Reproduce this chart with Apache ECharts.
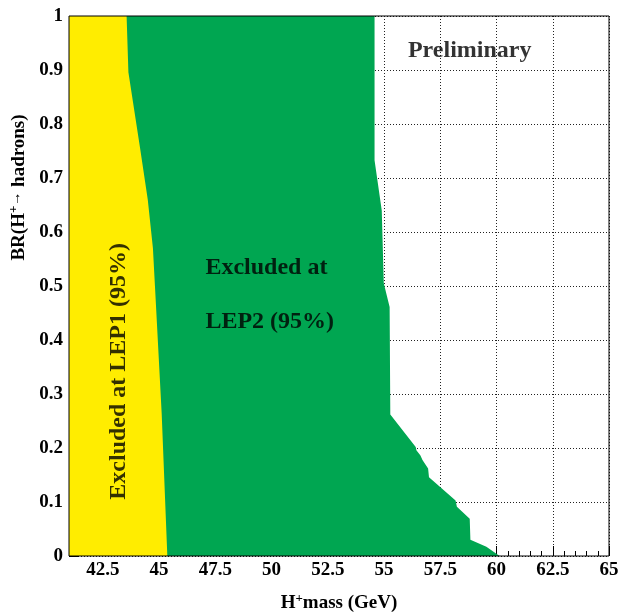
<!DOCTYPE html>
<html><head><meta charset="utf-8">
<script src="https://cdn.jsdelivr.net/npm/echarts@6/dist/echarts.min.js"></script>
<style>html,body{margin:0;padding:0;background:#fff}#c{width:629px;height:613px}</style>
</head><body><div id="c"></div>
<script>
// Tick labels on the mass axis (GeV)
const massTicks = [42.5, 45, 47.5, 50, 52.5, 55, 57.5, 60, 62.5, 65];

// LEP1 exclusion boundary (yellow): mass (GeV) vs BR(H+ -> hadrons)
const lep1Mass = [41.0, 43.56, 43.64, 44.16, 44.50, 44.73, 44.82, 45.12, 45.37];
const lep1BR   = [1.0,  1.0,   0.896, 0.755, 0.66,  0.57,  0.50,  0.263, 0.0];

// LEP2 exclusion boundary (green)
const lep2Mass = [41.0, 54.58, 54.58, 54.90, 54.99, 55.25, 55.28, 56.41, 56.44, 56.62, 56.71, 56.96, 57.00, 58.18, 58.24, 58.81, 58.84, 59.55, 60.14];
const lep2BR   = [1.0,  1.0,   0.733, 0.640, 0.505, 0.461, 0.262, 0.202, 0.196, 0.186, 0.178, 0.162, 0.146, 0.103, 0.091, 0.069, 0.030, 0.017, 0.0];

// Text annotations (in data coordinates)
const annotationTexts = ['Preliminary', 'Excluded at', 'LEP2 (95%)', 'Excluded at LEP1 (95%)'];
const annotationMass  = [58.81, 47.04, 47.04, 43.22];
const annotationBR    = [0.936, 0.533, 0.433, 0.342];

const FONT = "'Liberation Serif', 'Times New Roman', serif";
const YELLOW = '#FFED00';
const GREEN = '#00A651';

const chart = echarts.init(document.getElementById('c'), null, {renderer: 'canvas'});

const dotted = {color: '#222', width: 1, type: [1, 2]};

const annData = annotationTexts.map((t, i) => {
  const d = {value: [annotationMass[i], annotationBR[i]], name: t};
  if (i === 0) d.label = {position: 'inside'};
  else if (i === 3) d.label = {position: 'inside', rotate: 90};
  else d.label = {position: 'right', distance: 0};
  return d;
});

chart.setOption({
  animation: false,
  backgroundColor: '#fff',
  grid: {left: 69, right: 20, top: 16, bottom: 57, outerBoundsMode: 'none', containLabel: false,
         show: true, borderColor: '#000', borderWidth: 1, backgroundColor: 'transparent', z: 10},
  xAxis: [{
    type: 'value', min: 41, max: 65, position: 'bottom',
    axisLine: {show: false},
    axisTick: {show: true, inside: true, length: 10, customValues: massTicks, lineStyle: {color: '#000'}},
    axisLabel: {customValues: massTicks, fontFamily: FONT, fontWeight: 'bold', fontSize: 19, color: '#000', margin: 5},
    splitLine: {show: true, lineStyle: dotted},
    name: '{b|H}{sup|+}{b|mass (GeV)}',
    nameLocation: 'middle', nameGap: 36,
    nameTextStyle: {
      rich: {
        b: {fontFamily: FONT, fontWeight: 'bold', fontSize: 19, color: '#000'},
        sup: {fontFamily: FONT, fontWeight: 'bold', fontSize: 13, color: '#000', padding: [0, 0, 10, 0]}
      }
    }
  }, {
    type: 'value', min: 41, max: 65, interval: 0.5, position: 'bottom',
    axisLine: {show: false},
    axisTick: {show: true, inside: true, length: 5, lineStyle: {color: '#000'}},
    axisLabel: {show: false},
    splitLine: {show: false}
  }],
  yAxis: {
    type: 'value', min: 0, max: 1, interval: 0.1,
    axisLine: {show: false},
    axisTick: {show: true, inside: true, length: 10, lineStyle: {color: '#000'}},
    axisLabel: {fontFamily: FONT, fontWeight: 'bold', fontSize: 19, color: '#000', margin: 6},
    splitLine: {show: true, lineStyle: dotted},
    name: '{b|BR(H}{sup|+}{arr|\u2192}{b| hadrons)}',
    nameLocation: 'middle', nameRotate: 90, nameGap: 38,
    nameTextStyle: {
      padding: [0, 0, 0, 197],
      rich: {
        b: {fontFamily: FONT, fontWeight: 'bold', fontSize: 19, color: '#000'},
        sup: {fontFamily: FONT, fontWeight: 'bold', fontSize: 13, color: '#000', padding: [0, 0, 10, 0]},
        arr: {fontFamily: FONT, fontWeight: 'bold', fontSize: 14, color: '#000', padding: [0, 0, 4, 0]}
      }
    }
  },
  series: [{
    name: 'LEP2', type: 'line', xAxisIndex: 0,
    data: lep2Mass.map((m, i) => [m, lep2BR[i]]),
    symbol: 'none', showSymbol: false, silent: true, z: 2,
    lineStyle: {width: 0, color: GREEN},
    areaStyle: {color: GREEN, opacity: 1}
  }, {
    name: 'LEP1', type: 'line', xAxisIndex: 0,
    data: lep1Mass.map((m, i) => [m, lep1BR[i]]),
    symbol: 'none', showSymbol: false, silent: true, z: 3,
    lineStyle: {width: 0, color: YELLOW},
    areaStyle: {color: YELLOW, opacity: 1}
  }, {
    name: 'annotations', type: 'scatter', xAxisIndex: 0,
    data: annData, symbolSize: 1, silent: true, z: 5,
    itemStyle: {color: 'rgba(0,0,0,0)'},
    label: {show: true, formatter: '{b}', fontFamily: FONT, fontWeight: 'bold', fontSize: 24, color: '#000', textBorderWidth: 0}
  }]
});
</script>
</body></html>
